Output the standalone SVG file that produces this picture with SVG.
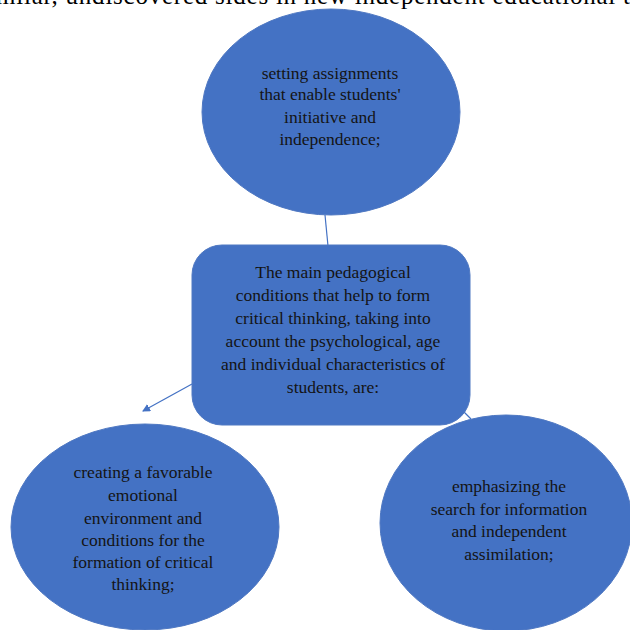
<svg xmlns="http://www.w3.org/2000/svg" width="630" height="630" viewBox="0 0 630 630">
<style>
.shape{fill:#4472C4;stroke:#4F78C2;stroke-width:1}
.t{font-family:"Liberation Serif","Times New Roman",serif;font-size:17.5px;fill:#141414;text-anchor:middle}
.c{stroke:#4472C4;stroke-width:1.2;fill:none}
.top{font-family:"Liberation Serif","Times New Roman",serif;font-size:25px;fill:#000}
</style>
<defs>
<marker id="ah" markerWidth="8" markerHeight="8" refX="7" refY="4" orient="auto" markerUnits="userSpaceOnUse">
<path d="M0,0 L8,4 L0,8 z" fill="#4472C4"/>
</marker>
</defs>
<rect width="630" height="630" fill="#fff"/>
<text class="top" x="-4" y="4" textLength="634" lengthAdjust="spacing">milar, undiscovered sides in new independent educational t</text>
<g id="connectors">
<line class="c" x1="325" y1="215" x2="328" y2="246"/>
<line class="c" x1="192" y1="384" x2="143" y2="411" marker-end="url(#ah)"/>
<line class="c" x1="462" y1="410" x2="471" y2="419"/>
</g>
<g id="center">
<rect class="shape" x="192" y="245" width="278" height="180" rx="30" ry="30"/>
<text class="t" x="333" y="278">The main pedagogical</text>
<text class="t" x="333" y="301">conditions that help to form</text>
<text class="t" x="333" y="324">critical thinking, taking into</text>
<text class="t" x="333" y="347">account the psychological, age</text>
<text class="t" x="333" y="370">and individual characteristics of</text>
<text class="t" x="333" y="393">students, are:</text>
</g>
<g id="top-node">
<ellipse class="shape" cx="331" cy="112" rx="129" ry="103"/>
<text class="t" x="330" y="79">setting assignments</text>
<text class="t" x="330" y="100">that enable students'</text>
<text class="t" x="330" y="123">initiative and</text>
<text class="t" x="330" y="145">independence;</text>
</g>
<g id="left-node">
<ellipse class="shape" cx="145" cy="527" rx="134" ry="103"/>
<text class="t" x="143" y="478">creating a favorable</text>
<text class="t" x="143" y="501">emotional</text>
<text class="t" x="143" y="524">environment and</text>
<text class="t" x="143" y="546">conditions for the</text>
<text class="t" x="143" y="568">formation of critical</text>
<text class="t" x="143" y="590">thinking;</text>
</g>
<g id="right-node">
<ellipse class="shape" cx="506" cy="523" rx="126" ry="108"/>
<text class="t" x="509" y="492">emphasizing the</text>
<text class="t" x="509" y="515">search for information</text>
<text class="t" x="509" y="537">and independent</text>
<text class="t" x="509" y="560">assimilation;</text>
</g>
</svg>
